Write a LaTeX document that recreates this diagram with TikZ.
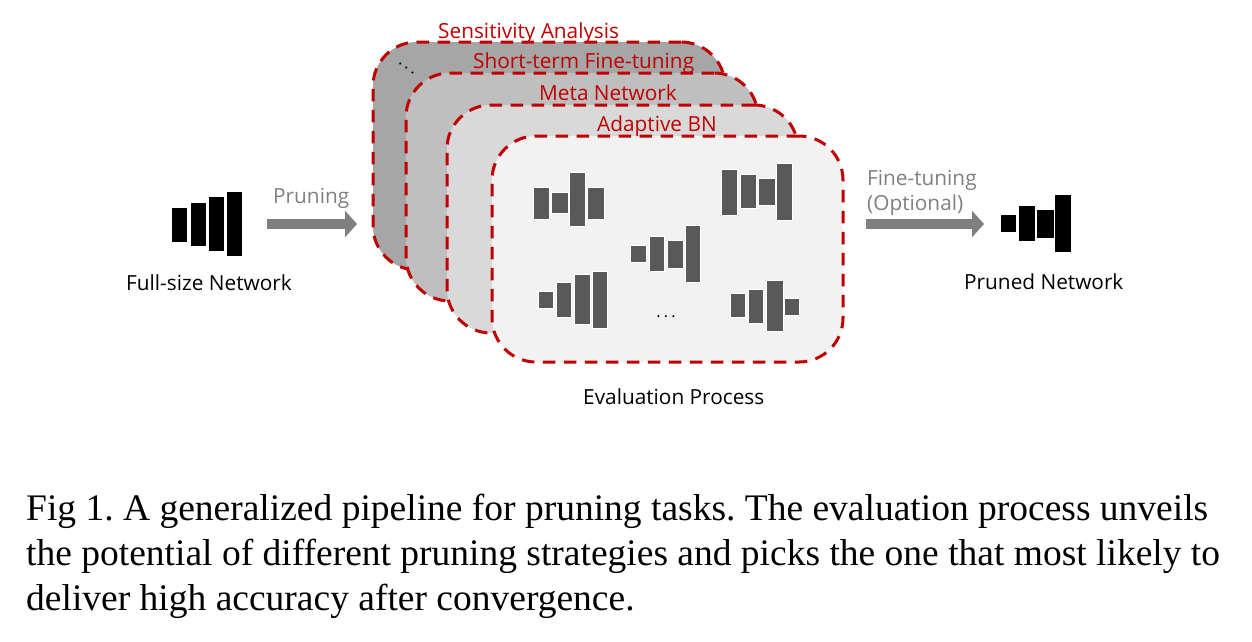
\documentclass[tikz,border=0pt]{standalone}
\usepackage{fontspec}
\setmainfont{Liberation Serif}
\newfontfamily\labelfont{Open Sans}
\usetikzlibrary{arrows.meta}
\newcommand{\netbar}[5][netgrey]{\draw[#1] (#2,#3) rectangle (#4,#5);}
\tikzset{
  panel/.style={draw=panelred,line width=3pt,dash pattern=on 12.5pt off 8.5pt,rounded corners=44pt,
    rectangle,anchor=north west,inner sep=0pt,outer sep=0pt},
  netgrey/.style={fill=bargrey,draw=white,line width=1pt},
  netblack/.style={fill=black,draw=none},
  lab/.style={font=\labelfont\fontsize{20.8}{24}\selectfont,anchor=base west,inner sep=0pt},
  redlab/.style={lab,text=panelred},
  greylab/.style={lab,text=labgrey},
  dotlab/.style={font=\labelfont\fontsize{16}{18}\selectfont,inner sep=0pt},
  bigarrow/.style={draw=arrowgrey,line width=10pt,-{Triangle[length=12pt,width=26pt]}},
}
\definecolor{panelred}{HTML}{C00000}
\definecolor{bargrey}{HTML}{595959}
\definecolor{labgrey}{HTML}{7F7F7F}
\definecolor{arrowgrey}{HTML}{7F7F7F}
\begin{document}
\begin{tikzpicture}[x=1pt,y=-1pt]
\useasboundingbox (0,0) rectangle (1252,641);
% panels
\node[panel,fill=black!35,minimum width=352pt,minimum height=228pt] (p1) at (373,42) {};
\node[panel,fill=black!25,minimum width=352pt,minimum height=228pt] (p2) at (406,73) {};
\node[panel,fill=black!15,minimum width=351pt,minimum height=228pt] (p3) at (447,105) {};
\node[panel,fill=black!5,minimum width=351pt,minimum height=226pt] (p4) at (492,136) {};
% panel labels
\node[redlab] (t1) at (438,38) {Sensitivity Analysis};
\node[redlab] (t2) at (473,68) {Short-term Fine-tuning};
\node[redlab] (t3) at (539,100) {Meta Network};
\node[redlab] (t4) at (597,131) {Adaptive BN};
\node[dotlab,rotate=-35,anchor=base] (dots1) at (406,69) {.\kern3.2pt.\kern3.2pt.};
\node[dotlab,anchor=base] (dots2) at (666,317) {.\kern3.2pt.\kern3.2pt.};
% full-size network
\netbar[netblack]{172}{208}{187}{242}
\netbar[netblack]{191}{203}{206}{246}
\netbar[netblack]{209}{197}{224}{251}
\netbar[netblack]{227}{192}{242}{256}
% pruned network
\netbar[netblack]{1001}{215}{1016}{232}
\netbar[netblack]{1019}{206}{1035}{241}
\netbar[netblack]{1037}{210}{1054}{238}
\netbar[netblack]{1055}{195}{1071}{252}
% candidates
\netbar{533.3}{187.3}{549}{219}
\netbar{551.7}{192}{568.3}{213.3}
\netbar{569.7}{172.3}{585.3}{226.7}
\netbar{587.7}{187.3}{604.7}{219}
\netbar{721.7}{169}{737}{215}
\netbar{740.3}{174}{756}{208.7}
\netbar{758.7}{178}{775}{205.7}
\netbar{776.7}{163}{792}{220}
\netbar{630.7}{245.3}{646}{262.3}
\netbar{649}{236}{664}{271}
\netbar{667}{240.7}{683}{268.7}
\netbar{685}{225.3}{700.3}{282.3}
\netbar{538}{291}{553.3}{308}
\netbar{556}{282.3}{571.3}{317}
\netbar{574}{274}{590.7}{324.3}
\netbar{592.3}{271}{607.7}{328.3}
\netbar{730}{293}{745.3}{317}
\netbar{748.3}{289}{763.7}{323.7}
\netbar{766.3}{280.7}{783}{331}
\netbar{784.3}{298.3}{799.7}{315.7}
% arrows
\coordinate (a1s) at (267,224);
\coordinate (a1e) at (357,224);
\coordinate (a2s) at (866,224);
\coordinate (a2e) at (984,224);
\draw[bigarrow] (a1s) -- (a1e);
\draw[bigarrow] (a2s) -- (a2e);
% labels
\node[greylab] (lp) at (273,203) {Pruning};
\node[greylab] (lf1) at (867,185) {Fine-tuning};
\node[greylab] (lf2) at (867,210) {(Optional)};
\node[lab] (lfull) at (126,290) {Full-size Network};
\node[lab] (lpr) at (964,289) {Pruned Network};
\node[lab] (lev) at (583,404) {Evaluation Process};
% caption
\node[anchor=base west,inner sep=0pt,align=left,font=\fontsize{37.5}{45}\selectfont\frenchspacing] (cap) at (26,610)
 {Fig 1. A generalized pipeline for pruning tasks. The evaluation process unveils\\
  the potential of different pruning strategies and picks the one that most likely to\\
  deliver high accuracy after convergence.};
\end{tikzpicture}
\end{document}
